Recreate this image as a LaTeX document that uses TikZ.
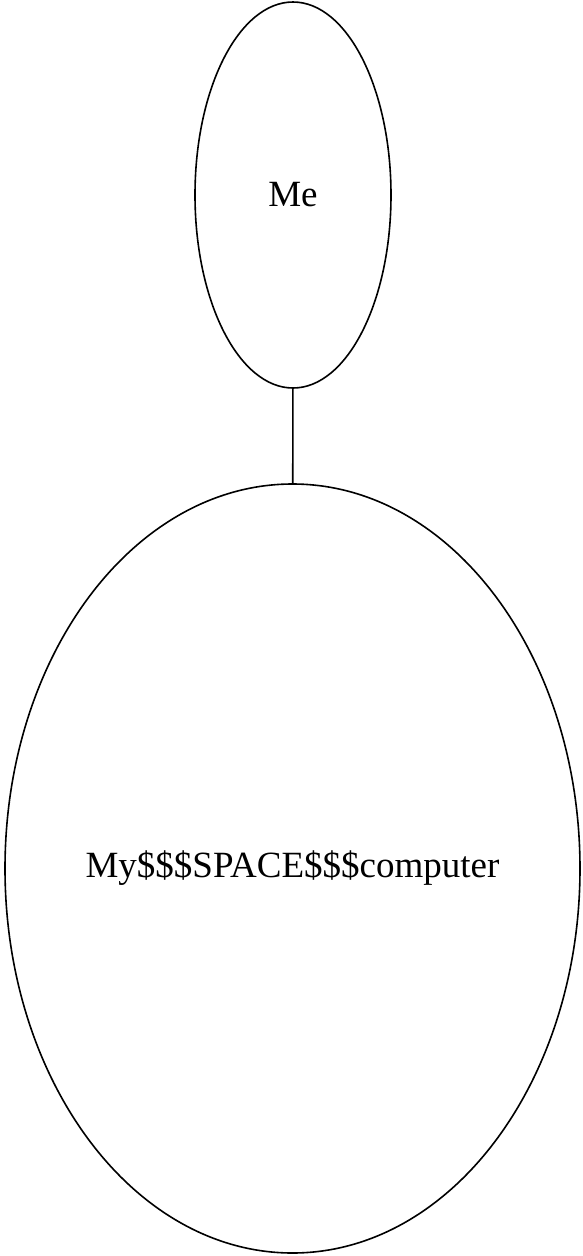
\documentclass[tikz,border=0pt]{standalone}
\usepackage{fontspec}
\setmainfont{Liberation Serif}
\usetikzlibrary{shapes.geometric}
\begin{document}
\begin{tikzpicture}[x=1pt,y=-1pt,
  oval/.style={draw=black,line width=1.6pt,ellipse,inner sep=0pt,font=\fontsize{37}{41}\selectfont},
  link/.style={draw=black,line width=1.6pt}]
\useasboundingbox (0,0) rectangle (582,1256);
\node[oval,minimum width=196pt,minimum height=386pt] (me) at (293,195) {Me};
\node[oval,inner xsep=-60pt,minimum width=575pt,minimum height=769pt] (pc) at (292.5,868.5) {My\$\$\$SPACE\$\$\$computer};
\draw[link] (me) -- (pc);
\end{tikzpicture}
\end{document}
